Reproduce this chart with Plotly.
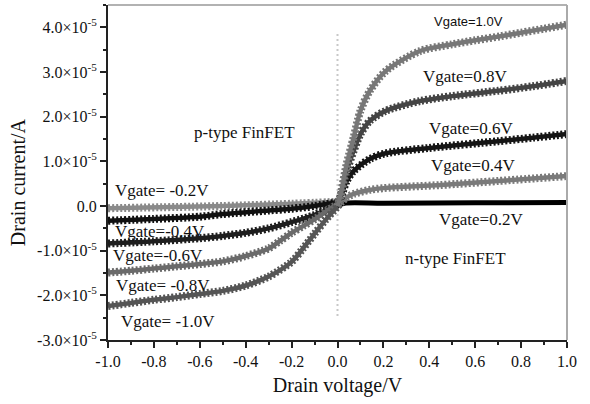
import plotly.graph_objects as go

# Drain current in units of 1e-5 A, drain voltage in V
# n-type FinFET (positive gate voltages)
vd_n10 = [0.0, 0.011, 0.04, 0.07, 0.10, 0.14, 0.21, 0.36, 0.50, 0.60, 0.71, 0.80, 0.90, 1.00]
id_n10 = [0.0, 0.19, 0.94, 1.53, 2.13, 2.57, 3.02, 3.47, 3.62, 3.71, 3.80, 3.88, 3.97, 4.06]

vd_n08 = [0.0, 0.02, 0.04, 0.07, 0.10, 0.14, 0.21, 0.36, 0.50, 0.70, 0.85, 1.00]
id_n08 = [0.0, 0.35, 0.78, 1.23, 1.61, 1.90, 2.13, 2.35, 2.46, 2.58, 2.68, 2.80]

vd_n06 = [0.0, 0.02, 0.04, 0.07, 0.14, 0.21, 0.40, 0.70, 0.85, 1.00]
id_n06 = [0.0, 0.28, 0.56, 0.78, 1.05, 1.18, 1.30, 1.45, 1.53, 1.61]

vd_n04 = [0.0, 0.04, 0.07, 0.14, 0.20, 0.45, 0.70, 1.00]
id_n04 = [0.0, 0.19, 0.27, 0.36, 0.40, 0.47, 0.56, 0.67]

vd_n02 = [0.0, 0.03, 0.20, 0.60, 1.00]
id_n02 = [0.0, 0.06, 0.06, 0.07, 0.08]

# p-type FinFET (negative gate voltages)
vd_p02 = [-1.0, -0.5, -0.2, 0.02]
id_p02 = [-0.05, 0.0, 0.05, 0.10]

vd_p04 = [-1.0, -0.8, -0.6, -0.5, -0.3, -0.2, -0.1, 0.02]
id_p04 = [-0.33, -0.29, -0.24, -0.18, -0.10, -0.06, 0.0, 0.10]

vd_p06 = [-1.0, -0.8, -0.6, -0.5, -0.4, -0.3, -0.2, -0.1, 0.02]
id_p06 = [-0.84, -0.79, -0.72, -0.67, -0.60, -0.50, -0.36, -0.20, 0.10]

vd_p08 = [-1.0, -0.9, -0.8, -0.7, -0.6, -0.5, -0.4, -0.3, -0.25, -0.2, -0.15, -0.1, -0.05, 0.02]
id_p08 = [-1.49, -1.45, -1.40, -1.35, -1.30, -1.24, -1.12, -0.95, -0.78, -0.60, -0.45, -0.30, -0.12, 0.10]

vd_p10 = [-1.0, -0.9, -0.8, -0.7, -0.6, -0.5, -0.4, -0.3, -0.2, -0.15, -0.1, -0.05, 0.02]
id_p10 = [-2.24, -2.17, -2.10, -2.04, -1.97, -1.90, -1.78, -1.58, -1.25, -0.95, -0.62, -0.30, 0.10]

x_ticks = [-1.0, -0.8, -0.6, -0.4, -0.2, 0.0, 0.2, 0.4, 0.6, 0.8, 1.0]
x_tick_text = ["-1.0", "-0.8", "-0.6", "-0.4", "-0.2", "0.0", "0.2", "0.4", "0.6", "0.8", "1.0"]
y_ticks = [-3, -2, -1, 0, 1, 2, 3, 4]
y_tick_text = ["-3.0×10<sup>-5</sup>", "-2.0×10<sup>-5</sup>", "-1.0×10<sup>-5</sup>", "0.0",
               "1.0×10<sup>-5</sup>", "2.0×10<sup>-5</sup>", "3.0×10<sup>-5</sup>", "4.0×10<sup>-5</sup>"]

# guide line along Vd = 0
guide_x = [0.0, 0.0]
guide_y = [3.85, -2.53]

curves = [
    (vd_p02, id_p02, "#8a8a8a", True),
    (vd_p04, id_p04, "#111111", True),
    (vd_p06, id_p06, "#1e1e1e", True),
    (vd_p08, id_p08, "#6a6a6a", True),
    (vd_p10, id_p10, "#555555", True),
    (vd_n02, id_n02, "#000000", False),
    (vd_n04, id_n04, "#7a7a7a", True),
    (vd_n06, id_n06, "#151515", True),
    (vd_n08, id_n08, "#444444", True),
    (vd_n10, id_n10, "#777777", True),
]

SERIF = "Liberation Serif, Times New Roman, serif"
SANS = "Liberation Sans, Arial, sans-serif"

fig = go.Figure()

fig.add_trace(go.Scatter(x=guide_x, y=guide_y, mode="lines",
                         line=dict(color="#c8c8c8", width=2, dash="2px,3px"),
                         hoverinfo="skip", showlegend=False))

for vx, iy, col, toothed in curves:
    if toothed:
        # serrated outline of the densely packed triangle markers
        fig.add_trace(go.Scatter(x=vx, y=iy, mode="lines",
                                 line=dict(color=col, width=8, dash="2px,2px",
                                           shape="spline", smoothing=0.8),
                                 hoverinfo="skip", showlegend=False))
        fig.add_trace(go.Scatter(x=vx, y=iy, mode="lines",
                                 line=dict(color=col, width=4.5, shape="spline", smoothing=0.8),
                                 showlegend=False))
    else:
        fig.add_trace(go.Scatter(x=vx, y=iy, mode="lines",
                                 line=dict(color=col, width=5, shape="spline", smoothing=0.8),
                                 showlegend=False))

labels = [
    ("Vgate=1.0V", 0.569, 4.12, SANS, 13),
    ("Vgate=0.8V", 0.556, 2.89, SERIF, 17),
    ("Vgate=0.6V", 0.582, 1.745, SERIF, 17),
    ("Vgate=0.4V", 0.590, 0.917, SERIF, 17),
    ("Vgate=0.2V", 0.625, -0.313, SERIF, 17),
    ("n-type FinFET", 0.516, -1.186, SERIF, 17),
    ("p-type FinFET", -0.407, 1.655, SERIF, 17),
    ("Vgate= -0.2V", -0.765, 0.358, SERIF, 17),
    ("Vgate=-0.4V", -0.775, -0.58, SERIF, 17),
    ("Vgate=-0.6V", -0.782, -1.119, SERIF, 17),
    ("Vgate= -0.8V", -0.760, -1.79, SERIF, 17),
    ("Vgate= -1.0V", -0.739, -2.595, SERIF, 17),
]
for txt, ax_, ay_, fam, sz in labels:
    fig.add_annotation(x=ax_, y=ay_, text=txt, showarrow=False,
                       xanchor="center", yanchor="middle",
                       font=dict(family=fam, size=sz, color="#111111"))

# vertical axis title, placed a little below the plot-area centre
fig.add_annotation(x=-0.197, y=0.47, xref="paper", yref="paper",
                   text="Drain current/A", textangle=-90, showarrow=False,
                   xanchor="center", yanchor="middle",
                   font=dict(family=SERIF, size=20, color="#111111"))

fig.update_layout(
    width=590, height=404,
    margin=dict(l=108, r=23, t=5, b=64),
    paper_bgcolor="white", plot_bgcolor="white",
    font=dict(family=SERIF, size=16, color="#111111"),
    shapes=[
        dict(type="line", xref="paper", yref="paper", x0=0, x1=1, y0=1, y1=1,
             line=dict(color="#999999", width=1.5)),
        dict(type="line", xref="paper", yref="paper", x0=1, x1=1, y0=0, y1=1,
             line=dict(color="#aaaaaa", width=2)),
    ],
)

fig.update_xaxes(
    range=[-1.0, 1.0], tickvals=x_ticks, ticktext=x_tick_text,
    showgrid=False, zeroline=False,
    showline=True, linecolor="#222222", linewidth=2,
    ticks="outside", ticklen=6, tickwidth=1.5, tickcolor="#222222",
    minor=dict(dtick=0.1, ticks="outside", ticklen=3, tickwidth=1.5, tickcolor="#222222"),
    tickfont=dict(family=SERIF, size=16),
    title=dict(text="Drain voltage/V", font=dict(family=SERIF, size=20), standoff=9),
)
fig.update_yaxes(
    range=[-3.0, 4.5], tickvals=y_ticks, ticktext=y_tick_text,
    showgrid=False, zeroline=False,
    showline=True, linecolor="#222222", linewidth=2,
    ticks="outside", ticklen=6, tickwidth=1.5, tickcolor="#222222",
    minor=dict(dtick=0.5, ticks="outside", ticklen=3, tickwidth=1.5, tickcolor="#222222"),
    tickfont=dict(family=SERIF, size=16),
)

fig.write_html("out.html")
